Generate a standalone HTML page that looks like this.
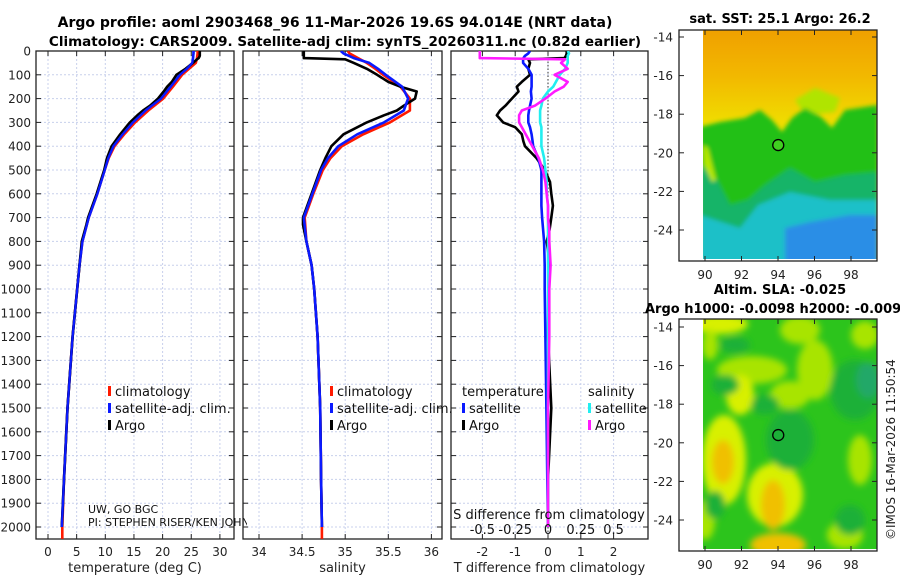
<!DOCTYPE html>
<html><head><meta charset="utf-8"><style>
html,body{margin:0;padding:0;background:#fff;}
svg{display:block;font-family:"DejaVu Sans","Liberation Sans",sans-serif;}
</style></head><body>
<svg id="fig" width="900" height="580" viewBox="0 0 900 580" xmlns="http://www.w3.org/2000/svg">
<defs>
<clipPath id="clipP1"><rect x="36" y="51" width="198" height="488"/></clipPath>
<clipPath id="clipP2"><rect x="243" y="51" width="199" height="488"/></clipPath>
<clipPath id="clipP3"><rect x="451" y="51" width="197" height="488"/></clipPath>
<clipPath id="clipM1"><rect x="703" y="30" width="174" height="229"/></clipPath>
<clipPath id="clipM2"><rect x="703" y="319" width="174" height="230"/></clipPath>
<filter id="blur1"><feGaussianBlur stdDeviation="2"/></filter>
<filter id="blur2"><feGaussianBlur stdDeviation="3.5"/></filter>
</defs>
<text x="335" y="27" font-size="14" font-weight="bold" text-anchor="middle">Argo profile: aoml 2903468_96 11-Mar-2026 19.6S 94.014E (NRT data)</text>
<text x="345" y="46" font-size="13.5" font-weight="bold" text-anchor="middle">Climatology: CARS2009. Satellite-adj clim: synTS_20260311.nc (0.82d earlier)</text>
<g id="panels"></g>
<g id="maps"></g>
</svg>
<script>
// ---- data ----
const climDepths = [0,10,30,50,75,100,150,200,250,300,350,400,450,500,600,700,800,900,1000,1200,1500,1800,2000,2050];
const tempClim = [26.1,26.1,26.0,25.8,24.6,23.4,21.8,20.1,17.5,15.2,13.3,11.6,10.6,9.9,8.6,7.1,6.0,5.5,5.1,4.3,3.4,2.8,2.5,2.5];
const salClim = [35.03,35.05,35.15,35.25,35.35,35.44,35.64,35.75,35.75,35.52,35.21,34.96,34.83,34.74,34.63,34.53,34.55,34.61,34.64,34.68,34.71,34.72,34.73,34.73];
const satDepths = [0,10,30,50,75,100,150,200,250,300,350,400,450,500,600,700,800,900,1000,1200,1500,1800,2000];
const tempSat = [25.4,25.4,25.3,25.2,24.2,23.0,21.4,19.7,17.0,14.8,13.0,11.4,10.5,9.9,8.6,7.1,6.0,5.5,5.1,4.3,3.4,2.8,2.4];
const salSat = [34.95,34.98,35.1,35.28,35.38,35.47,35.66,35.73,35.68,35.45,35.14,34.92,34.8,34.72,34.62,34.52,34.55,34.61,34.64,34.68,34.71,34.72,34.73];
const argoDepths = [0,10,20,30,35,50,75,100,130,150,170,200,230,250,270,300,350,400,450,500,600,700,730,800,900,1000,1200,1500,1800,2000];
const tempArgo = [26.5,26.5,26.5,26.3,26.0,25.3,24.0,22.4,21.6,20.8,20.2,19.2,17.8,16.6,15.6,14.3,12.6,11.1,10.3,9.8,8.5,7.0,6.7,5.9,5.5,5.1,4.3,3.4,2.8,2.4];
const salArgo = [34.52,34.52,34.52,34.52,35.0,35.1,35.25,35.37,35.5,35.64,35.83,35.81,35.68,35.6,35.45,35.25,34.98,34.84,34.77,34.71,34.61,34.51,34.51,34.55,34.61,34.64,34.68,34.71,34.72,34.73];
const diffDepths = [0,10,20,30,35,50,75,100,130,150,170,200,230,250,270,300,320,350,380,400,450,500,550,600,650,700,750,800,900,1000,1200,1500,1800,2000];
const dTempArgo = [0.57,0.57,0.55,0.5,-0.6,-0.55,-0.6,-0.55,-0.8,-0.95,-0.9,-1.1,-1.3,-1.46,-1.56,-1.37,-1.0,-0.8,-0.75,-0.7,-0.35,-0.1,0.06,0.1,0.15,0.1,0.05,-0.04,0.06,0.02,0.0,0.1,0.0,0.0];
const dTempSat = [-0.55,-0.6,-0.7,-0.75,-0.76,-0.76,-0.6,-0.5,-0.5,-0.5,-0.52,-0.5,-0.55,-0.58,-0.6,-0.6,-0.55,-0.5,-0.47,-0.45,-0.3,-0.2,-0.2,-0.2,-0.2,-0.18,-0.15,-0.12,-0.1,-0.1,-0.08,-0.05,-0.02,0.0];
const dSalSat = [0.15,0.16,0.15,0.15,0.15,0.15,0.13,0.09,0.06,0.04,0.0,-0.04,-0.05,-0.06,-0.06,-0.06,-0.05,-0.05,-0.05,-0.05,-0.03,-0.02,-0.01,-0.01,0.0,0.0,0.0,0.0,0.0,0.0,0.0,0.0,0.0,0.0];
const dSalArgo = [-0.52,-0.52,-0.52,-0.52,0.13,0.1,0.15,0.05,0.15,0.12,0.05,-0.02,-0.1,-0.2,-0.22,-0.22,-0.2,-0.17,-0.14,-0.12,-0.07,-0.04,-0.02,-0.01,0.0,0.0,0.01,0.01,0.02,0.01,0.01,0.0,0.0,0.0];
const depthTicks = [0,100,200,300,400,500,600,700,800,900,1000,1100,1200,1300,1400,1500,1600,1700,1800,1900,2000];
const tempTicks = [0,5,10,15,20,25,30];
const salTicks = [34,34.5,35,35.5,36];
const salTickLabels = ["34","34.5","35","35.5","36"];
const dTTicks = [-2,-1,0,1,2];
const dSTicks = [-0.5,-0.25,0,0.25,0.5];
const dSTickLabels = ["-0.5","-0.25","0","0.25","0.5"];
const latTicks = [-14,-16,-18,-20,-22,-24];
const lonTicks = [90,92,94,96,98];
const floatLon = 94.014, floatLat = -19.6;

// ---- scales ----
const yD = d => 51 + d * 0.238;
const xT = t => 48 + t * 5.73;
const xS = s => 259 + (s - 34) * 86.2;
const xDT = t => 548 + t * 32.8;
const xDS = s => 548 + s * 131.2;
const lonX = l => 705 + (l - 90) * 18.25;
const lat1Y = l => 37 + (-14 - l) * 19.3;
const lat2Y = l => 327 + (-14 - l) * 19.3;

const NS = "http://www.w3.org/2000/svg";
const root = document.getElementById('panels');
function mk(tag, attrs, parent) {
  const e = document.createElementNS(NS, tag);
  for (const k in attrs) e.setAttribute(k, attrs[k]);
  (parent || root).appendChild(e);
  return e;
}
function txt(s, attrs, parent) { const e = mk('text', attrs, parent); e.textContent = s; return e; }

function panel(name, x0, x1, xTicksV, xTickLbl, xf, xlabel, yLabels) {
  const g = mk('g', {});
  
  
  depthTicks.forEach(d => {
    const l = mk('line', {x1:x0, x2:x1, y1:yD(d), y2:yD(d), stroke:'#c8d0ec', 'stroke-width':1, 'stroke-dasharray':'2,2'}, g);
    
    
  });
  xTicksV.forEach((v, i) => {
    const X = xf(v);
    const l = mk('line', {x1:X, x2:X, y1:51, y2:539, stroke:'#c8d0ec', 'stroke-width':1, 'stroke-dasharray':'2,2'}, g);
    
    
    mk('line', {x1:X, x2:X, y1:539, y2:534, stroke:'#222'}, g);
    mk('line', {x1:X, x2:X, y1:51, y2:56, stroke:'#222'}, g);
    if (xTickLbl) {
      const t = txt(xTickLbl[i], {x:X, y:556, 'font-size':12, 'text-anchor':'middle', fill:'#222'}, g);
      
      
    }
  });
  depthTicks.forEach(d => {
    mk('line', {x1:x0, x2:x0+5, y1:yD(d), y2:yD(d), stroke:'#222'}, g);
    mk('line', {x1:x1, x2:x1-5, y1:yD(d), y2:yD(d), stroke:'#222'}, g);
    if (yLabels) {
      const t = txt(String(d), {x:31, y:yD(d)+4.5, 'font-size':12, 'text-anchor':'end', fill:'#222'}, g);
      
      
    }
  });
  const fr = mk('rect', {x:x0, y:51, width:x1-x0, height:488, fill:'none', stroke:'#222', 'stroke-width':1.3}, g);
  
  
  const xl = txt(xlabel, {x:(x0+x1)/2, y:572, 'font-size':13, 'text-anchor':'middle', fill:'#222'}, g);
  
  
  return g;
}
function series(g, name, depths, vals, xf, color, clip, w) {
  const pts = depths.map((d, i) => xf(vals[i]).toFixed(1) + ',' + yD(d).toFixed(1)).join(' ');
  const p = mk('polyline', {points:pts, fill:'none', stroke:color, 'stroke-width':w||2.6, 'clip-path':'url(#'+clip+')', 'stroke-linejoin':'round'}, g);
  
  
}
function legend(g, items, x, y0) {
  items.forEach((it, i) => {
    const y = y0 + i * 17;
    if (it.color) {
      const m = mk('rect', {x:x, y:y-6, width:3, height:10, fill:it.color}, g);
      
      
    }
    const t = txt(it.label, {x:x + (it.color ? 7 : 0), y:y+4, 'font-size':13, fill:'#111'}, g);
    
    
  });
}

const defs = document.querySelector('defs');
const cpi = mk('clipPath', {id:'clipPI'}, defs);
mk('rect', {x:0, y:500, width:247, height:40}, cpi);

// panel 1 temperature
const g1 = panel('temperature-panel', 36, 234, tempTicks, tempTicks.map(String), xT, 'temperature (deg C)', true);
series(g1, 'temp-climatology-line', climDepths, tempClim, xT, '#ff1a00', 'clipP1');
series(g1, 'temp-satellite-line', satDepths, tempSat, xT, '#0a1aff', 'clipP1');
series(g1, 'temp-argo-line', argoDepths, tempArgo, xT, '#000', 'clipP1');
series(g1, 'temp-satellite-line-front', satDepths, tempSat, xT, '#0a1aff', 'clipP1', 2.2);
legend(g1, [{label:'climatology', color:'#ff1a00'}, {label:'satellite-adj. clim.', color:'#0a1aff'}, {label:'Argo', color:'#000'}], 108, 392);
const uw = txt('UW, GO BGC', {x:88, y:513, 'font-size':11, fill:'#111'}, g1);


const pi = txt('PI: STEPHEN RISER/KEN JOHN', {x:88, y:526, 'font-size':11, fill:'#111', 'clip-path':'url(#clipPI)'}, g1);



// panel 2 salinity
const g2 = panel('salinity-panel', 243, 442, salTicks, salTickLabels, xS, 'salinity', false);
series(g2, 'sal-climatology-line', climDepths, salClim, xS, '#ff1a00', 'clipP2');
series(g2, 'sal-argo-line', argoDepths, salArgo, xS, '#000', 'clipP2');
series(g2, 'sal-satellite-line', satDepths, salSat, xS, '#0a1aff', 'clipP2');
legend(g2, [{label:'climatology', color:'#ff1a00'}, {label:'satellite-adj. clim.', color:'#0a1aff'}, {label:'Argo', color:'#000'}], 330, 392);

// panel 3 differences
const g3 = panel('difference-panel', 451, 648, dTTicks, dTTicks.map(String), xDT, 'T difference from climatology', false);
const zl = mk('line', {x1:xDT(0), x2:xDT(0), y1:51, y2:539, stroke:'#333', 'stroke-dasharray':'1.5,2'}, g3);


series(g3, 'dtemp-argo-line', diffDepths, dTempArgo, xDT, '#000', 'clipP3');
series(g3, 'dtemp-satellite-line', diffDepths, dTempSat, xDT, '#0a1aff', 'clipP3');
series(g3, 'dsal-satellite-line', diffDepths, dSalSat, xDS, '#22eef0', 'clipP3');
series(g3, 'dsal-argo-line', diffDepths, dSalArgo, xDS, '#ff1aff', 'clipP3');
legend(g3, [{label:'temperature'}, {label:'satellite', color:'#0a1aff'}, {label:'Argo', color:'#000'}], 462, 392);
legend(g3, [{label:'salinity'}, {label:'satellite', color:'#22eef0'}, {label:'Argo', color:'#ff1aff'}], 588, 392);
const sdt = txt('S difference from climatology', {x:549, y:519, 'font-size':13, 'text-anchor':'middle', fill:'#111'}, g3);


dSTicks.forEach((v, i) => {
  const t = txt(dSTickLabels[i], {x:xDS(v), y:534, 'font-size':13, 'text-anchor':'middle', fill:'#111'}, g3);
  
  
});

// ---- maps ----
const mroot = document.getElementById('maps');
function mapAxes(name, top, title1, title2) {
  const g = mk('g', {}, mroot);
  
  
  if (title2) {
    const a = txt(title1, {x:780, y:top-25, 'font-size':13, 'font-weight':'bold', 'text-anchor':'middle'}, g);
    
    
    const b = txt(title2, {x:645, y:top-6, 'font-size':13, 'font-weight':'bold'}, g);
    
    
  } else {
    const a = txt(title1, {x:780, y:top-7, 'font-size':13, 'font-weight':'bold', 'text-anchor':'middle'}, g);
    
    
  }
  return g;
}
function mapFrame(g, top, bottom, latY, labY) {
  const fr = mk('rect', {x:679, y:top, width:198, height:bottom-top, fill:'none', stroke:'#222', 'stroke-width':1.3}, g);
  
  
  latTicks.forEach(l => {
    const y = latY(l);
    mk('line', {x1:679, x2:684, y1:y, y2:y, stroke:'#222'}, g);
    mk('line', {x1:877, x2:872, y1:y, y2:y, stroke:'#222'}, g);
    const t = txt(String(l), {x:673, y:y+4.5, 'font-size':12, 'text-anchor':'end', fill:'#222'}, g);
    
    
  });
  lonTicks.forEach(l => {
    const x = lonX(l);
    mk('line', {x1:x, x2:x, y1:bottom, y2:bottom-5, stroke:'#222'}, g);
    mk('line', {x1:x, x2:x, y1:top, y2:top+5, stroke:'#222'}, g);
    const t = txt(String(l), {x:x, y:labY, 'font-size':12, 'text-anchor':'middle', fill:'#222'}, g);
    
    
  });
}

// map 1 SST
const m1 = mapAxes('sst-map', 30, 'sat. SST: 25.1 Argo: 26.2');
const img1 = mk('g', {'clip-path':'url(#clipM1)'}, m1);


const lg = mk('linearGradient', {id:'sstGrad', x1:0, y1:0, x2:0, y2:1}, defs);
mk('stop', {offset:'0', 'stop-color':'#f0a000'}, lg);
mk('stop', {offset:'0.2', 'stop-color':'#f2b800'}, lg);
mk('stop', {offset:'0.4', 'stop-color':'#f0dc00'}, lg);
mk('stop', {offset:'0.6', 'stop-color':'#eaea00'}, lg);
mk('stop', {offset:'1', 'stop-color':'#d8ee00'}, lg);
mk('rect', {x:703, y:30, width:174, height:230, fill:'url(#sstGrad)'}, img1);
const b1 = mk('g', {filter:'url(#blur1)'}, img1);
mk('polygon', {points:'795,100 815,88 840,98 835,112 805,115', fill:'#b0e400'}, b1);
mk('polygon', {points:'700,127 720,122 745,118 760,110 772,120 782,132 792,118 805,108 820,116 832,128 845,110 878,105 878,265 700,265', fill:'#20c018'}, b1);
mk('polygon', {points:'700,165 716,178 730,205 748,200 765,185 790,168 815,182 845,175 878,172 878,265 700,265', fill:'#14b468'}, b1);
mk('polygon', {points:'700,215 740,228 758,205 790,192 830,200 878,200 878,265 700,265', fill:'#1cc0c8'}, b1);
mk('polygon', {points:'785,228 810,222 850,215 878,215 878,265 785,265', fill:'#2a8ee6'}, b1);
mk('polygon', {points:'703,145 708,148 716,180 712,182 704,165', fill:'#b8e800'}, b1);
mapFrame(m1, 30, 261, lat1Y, 279);
const c1 = mk('circle', {cx:lonX(floatLon), cy:lat1Y(floatLat), r:5.5, fill:'#40d020', stroke:'#000', 'stroke-width':1.3}, m1);



// map 2 SLA
const m2 = mapAxes('sla-map', 319, 'Altim. SLA: -0.025', 'Argo h1000: -0.0098 h2000: -0.009');
const img2 = mk('g', {'clip-path':'url(#clipM2)'}, m2);


mk('rect', {x:703, y:319, width:174, height:230, fill:'#2cc41c'}, img2);
const b2 = mk('g', {filter:'url(#blur2)'}, img2);
const Y = '#d8f000', L = '#a8e400', O = '#f0c000', D = '#1cb038';
[[720,324,28,10,Y],[800,330,20,14,L],[815,370,18,30,L],[752,370,35,14,L],[740,395,14,20,Y],[790,395,20,14,L],
 [724,460,22,45,Y],[723,462,11,22,O],[705,520,10,20,L],[775,495,28,32,Y],[773,505,12,25,O],[778,545,28,12,O],
 [860,460,12,25,L],[845,535,18,14,L],[865,335,14,14,L],[710,345,8,15,L]].forEach(e => {
  mk('ellipse', {cx:e[0], cy:e[1], rx:e[2], ry:e[3], fill:e[4]}, b2);
});
[[790,440,24,30,D],[765,405,14,10,D],[855,390,25,30,D],[868,380,12,18,'#20a868'],[725,385,14,10,D],[715,505,10,14,D],[735,345,15,8,D],[850,520,15,15,D]].forEach(e => {
  mk('ellipse', {cx:e[0], cy:e[1], rx:e[2], ry:e[3], fill:e[4]}, b2);
});
mapFrame(m2, 319, 551, lat2Y, 569);
const c2 = mk('circle', {cx:lonX(floatLon), cy:lat2Y(floatLat), r:5.5, fill:'none', stroke:'#000', 'stroke-width':1.3}, m2);


const cr = txt('©IMOS 16-Mar-2026 11:50:54', {x:0, y:0, 'font-size':12, fill:'#222', transform:'translate(895,540) rotate(-90)'}, m2);


</script>
</body></html>
